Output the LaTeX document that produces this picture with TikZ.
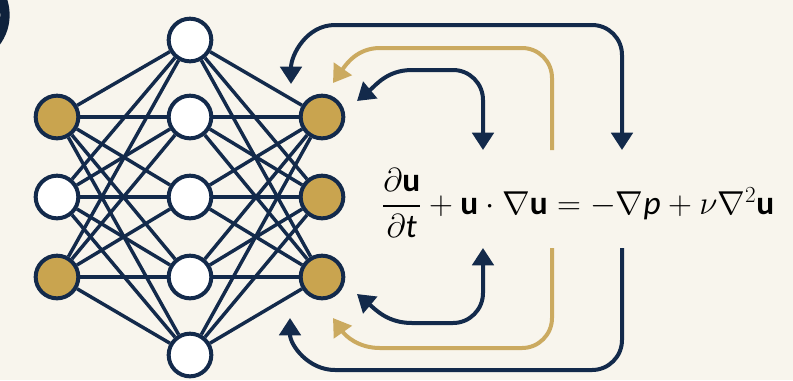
\documentclass[tikz,border=0pt]{standalone}
\usepackage{amsmath}
\usepackage{fontspec}
\setmainfont{Carlito}
\usetikzlibrary{arrows.meta}

\definecolor{navyline}{RGB}{19,42,75}
\definecolor{goldfill}{RGB}{201,164,79}
\definecolor{goldline}{RGB}{203,170,96}
\definecolor{paper}{RGB}{248,245,237}

\tikzset{every picture/.style={line width=0.75pt}}
\tikzset{
  neuron/.style={circle, draw=navyline, fill=white, line width=3pt, minimum size=32pt, inner sep=0pt},
  goldneuron/.style={neuron, fill=goldfill},
  synapse/.style={draw=navyline, line width=2.6pt},
  navyarc/.style={draw=navyline, line width=3pt},
  goldarc/.style={draw=goldline, line width=3pt},
  tip/.tip={Triangle[length=13pt,width=16pt]}
}

\begin{document}
\begin{tikzpicture}[x=0.75pt,y=0.75pt,yscale=-1,xscale=1]
	\useasboundingbox (0,0) rectangle (793,380);
	\clip (0,0) rectangle (793,380);
	\fill[paper] (0,0) rectangle (793,380);

	%Shape: Circle (cut off at the corner)
	\draw[navyline!80!black, line width=7pt] (-40,15) circle (45);

	% Input layer
	\node[goldneuron] (in1) at (57,117) {};
	\node[neuron]     (in2) at (57,197) {};
	\node[goldneuron] (in3) at (57,277) {};
	% Hidden layer
	\node[neuron] (hid1) at (190,40) {};
	\node[neuron] (hid2) at (190,117) {};
	\node[neuron] (hid3) at (190,197) {};
	\node[neuron] (hid4) at (190,277) {};
	\node[neuron] (hid5) at (190,355) {};
	% Output layer
	\node[goldneuron] (out1) at (322,117) {};
	\node[goldneuron] (out2) at (322,197) {};
	\node[goldneuron] (out3) at (322,277) {};

	%Straight Lines
	\foreach \i in {1,2,3}
	  \foreach \j in {1,...,5}
	  {
	    \draw[synapse] (in\i) -- (hid\j);
	    \draw[synapse] (hid\j) -- (out\i);
	  }

	% Text Node
	\node (eqn) at (578,203) {\fontsize{25}{30}\selectfont
	  $\dfrac{\partial\textbf{u}}{\partial \textit{t}}
	  + \textbf{u}\cdot\nabla\textbf{u} = -\nabla \textit{p} + \nu\nabla^{2}\textbf{u}$};

	% Loop ends
	\coordinate (oT1) at (622,150);
	\coordinate (oT2) at (291,84);
	\coordinate (gT1) at (552,150);
	\coordinate (gT2) at (333,83);
	\coordinate (iT1) at (483,150);
	\coordinate (iT2) at (357,101);
	\coordinate (iB1) at (483,248);
	\coordinate (iB2) at (357,294);
	\coordinate (gB1) at (552,248);
	\coordinate (gB2) at (333,318);
	\coordinate (oB1) at (622,248);
	\coordinate (oB2) at (290,318);

	%Curve Lines
	\draw[navyarc, tip-tip] (oT1) -- (622,55) to[out=-90,in=0] (592,25) -- (335,25) to[out=180,in=-90] (oT2);
	\draw[goldarc, -tip] (gT1) -- (552,78) to[out=-90,in=0] (522,48) -- (380,48) to[out=180,in=-55] (gT2);
	\draw[navyarc, tip-tip] (iT1) -- (483,100) to[out=-90,in=0] (453,70) -- (412,70) to[out=180,in=-40] (iT2);
	\draw[navyarc, tip-tip] (iB1) -- (483,293) to[out=90,in=0] (453,323) -- (412,323) to[out=180,in=40] (iB2);
	\draw[goldarc, -tip] (gB1) -- (552,318) to[out=90,in=0] (522,348) -- (380,348) to[out=180,in=55] (gB2);
	\draw[navyarc, -tip] (oB1) -- (622,340) to[out=90,in=0] (592,370) -- (335,370) to[out=180,in=90] (oB2);

\end{tikzpicture}
\end{document}
